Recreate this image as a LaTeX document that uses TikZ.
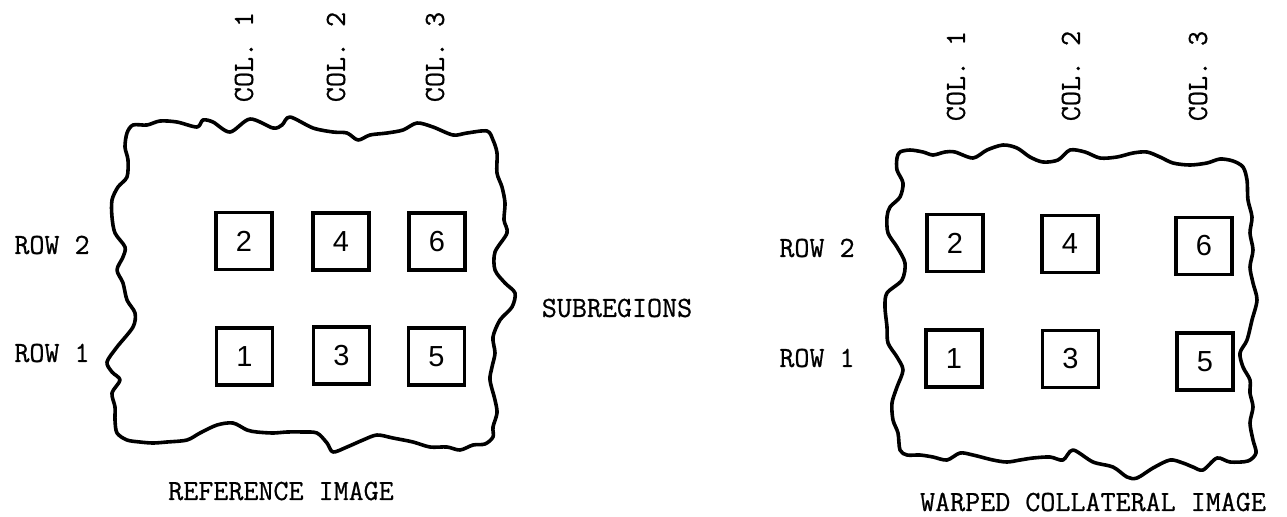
\documentclass[tikz,border=0pt]{standalone}
\usepackage{fontspec}
\newfontfamily\monofam{Latin Modern Mono}[FakeBold=0.7]
\newfontfamily\digitfam{Liberation Sans}
\begin{document}
\begin{tikzpicture}[x=0.5pt,y=-0.5pt,
  lbl/.style={font=\monofam\fontsize{14.6}{14.6}\selectfont, inner sep=0pt},
  collbl/.style={lbl, rotate=90},
  subbox/.style={draw, line width=1.9pt, minimum width=28pt, minimum height=28.5pt,
    inner sep=0pt, font=\digitfam\fontsize{14.5}{14.5}\selectfont},
  blob/.style={line width=1.8pt, line join=round}]
\useasboundingbox (0,0) rectangle (1287,516);

% ---------- left (reference) image ----------
\draw[blob] plot[smooth cycle, tension=0.5] coordinates {
 (133,125) (147,125) (160,121) (177,122) (197,127) (203,120) (213,122) (230,132)
 (250,119) (273,128) (282,125) (290,117) (313,128) (333,132) (347,133) (358,140)
 (370,135) (387,133) (403,130) (417,123) (433,127) (453,135) (467,133) (487,131)
 (493,140) (497,153) (497,173) (502,187) (505,203) (504,220) (507,233) (495,252)
 (495,270) (505,283) (515,293) (512,307) (500,320) (493,337) (495,353) (492,367)
 (490,380) (495,400) (497,413) (493,427) (493,437) (485,444) (473,445) (460,450)
 (447,447) (430,447) (413,442) (393,438) (377,435) (363,440) (347,447) (333,452)
 (327,443) (317,433) (303,432) (287,432) (273,433) (257,432) (247,430) (233,423)
 (217,425) (200,433) (187,440) (167,442) (153,443) (140,442) (127,440) (117,433)
 (115,420) (115,407) (112,393) (120,380) (112,372) (107,362) (117,347) (133,327)
 (135,313) (127,300) (123,283) (117,270) (123,257) (125,247) (115,233) (112,217)
 (112,200) (118,187) (127,177) (128,160) (125,147) (127,133)};

\node[subbox] (L2) at (244,241) {2};
\node[subbox] (L4) at (341,241.5) {4};
\node[subbox] (L6) at (437,241.5) {6};
\node[subbox] (L1) at (244.5,356.5) {1};
\node[subbox] (L3) at (341.5,355.5) {3};
\node[subbox] (L5) at (436.5,356.5) {5};

\node[collbl] (LC1) at (244,57) {COL. 1};
\node[collbl] (LC2) at (336,57) {COL. 2};
\node[collbl] (LC3) at (435,57) {COL. 3};
\node[lbl] (LR2) at (52,245) {ROW 2};
\node[lbl] (LR1) at (52,353) {ROW 1};
\node[lbl] (SUB) at (617,308) {SUBREGIONS};
\node[lbl] (LT) at (281,491) {REFERENCE IMAGE};

% ---------- right (warped) image ----------
\draw[blob] plot[smooth cycle, tension=0.5] coordinates {
 (900,152) (910,150) (923,152) (933,155) (945,152) (955,152) (973,158) (987,150)
 (1003,145) (1017,148) (1030,157) (1043,162) (1058,160) (1070,150) (1085,152)
 (1100,158) (1117,157) (1133,153) (1147,152) (1160,157) (1173,163) (1190,165)
 (1207,163) (1220,159) (1233,161) (1243,167) (1247,180) (1248,200) (1252,217)
 (1250,233) (1253,250) (1250,267) (1253,283) (1257,300) (1252,320) (1247,340)
 (1240,353) (1243,367) (1250,380) (1250,393) (1253,407) (1250,423) (1253,440)
 (1256,453) (1248,461) (1230,462) (1217,458) (1203,470) (1193,467) (1183,463)
 (1170,460) (1153,468) (1137,478) (1127,477) (1113,467) (1093,462) (1073,450)
 (1063,460) (1050,457) (1033,458) (1020,460) (1007,462) (993,460) (973,455)
 (960,453) (947,460) (933,457) (920,455) (907,455) (900,450) (898,433) (893,420)
 (892,403) (897,387) (903,370) (897,357) (888,343) (887,327) (885,307) (887,293)
 (902,280) (905,263) (897,247) (888,233) (887,217) (890,207) (900,197) (903,183)
 (897,170) (897,158)};

\node[subbox] (R2) at (955,243) {2};
\node[subbox] (R4) at (1070,244) {4};
\node[subbox] (R6) at (1204,246) {6};
\node[subbox] (R1) at (954,358.5) {1};
\node[subbox] (R3) at (1070.5,359) {3};
\node[subbox] (R5) at (1205,361.5) {5};

\node[collbl] (RC1) at (956,76) {COL. 1};
\node[collbl] (RC2) at (1071,76) {COL. 2};
\node[collbl] (RC3) at (1198,76) {COL. 3};
\node[lbl] (RR2) at (817,248) {ROW 2};
\node[lbl] (RR1) at (817,358) {ROW 1};
\node[lbl] (RT) at (1093,502) {WARPED COLLATERAL IMAGE};
\end{tikzpicture}
\end{document}
